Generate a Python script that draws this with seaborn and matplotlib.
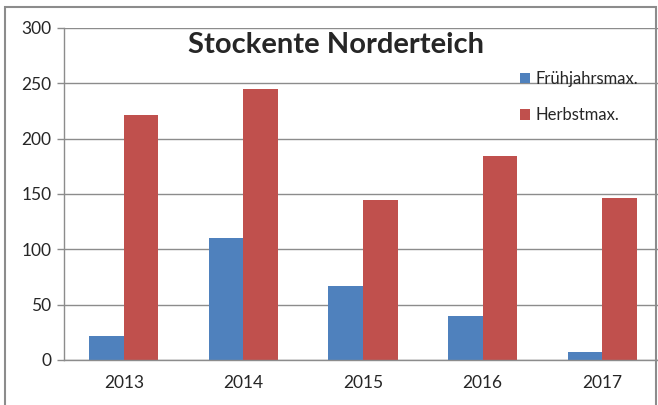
import pandas as pd
import numpy as np
import seaborn as sns
import matplotlib.pyplot as plt
from matplotlib.patches import Rectangle

# Daten
jahre = ["2013", "2014", "2015", "2016", "2017"]
fruehjahr = [22, 110, 67, 40, 7]
herbst = [221, 245, 145, 184, 146]
serien = ["Frühjahrsmax.", "Herbstmax."]
farben = ["#4F81BD", "#C0504D"]

df = pd.DataFrame({
    "Jahr": jahre * 2,
    "Anzahl": fruehjahr + herbst,
    "Serie": [serien[0]] * len(jahre) + [serien[1]] * len(jahre),
})

sns.set_style("white")
plt.rcParams["font.family"] = ["Lato", "DejaVu Sans"]

fig = plt.figure(figsize=(6.58, 4.05), dpi=100)
# Plotbereich reicht rechts leicht über den Rahmen hinaus (wie im Original)
ax = fig.add_axes([64 / 658, 1 - 360 / 405, (662 - 64) / 658, (360 - 28) / 405])

sns.barplot(data=df, x="Jahr", y="Anzahl", hue="Serie", palette=farben,
            width=0.58, saturation=1, linewidth=0, ax=ax, legend=True)

ax.set_ylim(0, 300)
ax.set_yticks(np.arange(0, 301, 50))
ax.set_xlim(-0.5, len(jahre) - 0.5)
ax.set_xlabel("")
ax.set_ylabel("")
ax.yaxis.grid(True, color="#8c8c8c", linewidth=1)
ax.set_axisbelow(True)
for s in ["top", "right"]:
    ax.spines[s].set_visible(False)
for s in ["left", "bottom"]:
    ax.spines[s].set_color("#8c8c8c")
    ax.spines[s].set_linewidth(1)

# Excel-artige Teilstriche zwischen den Kategorien
ax.set_xticks(np.arange(-0.5, len(jahre), 1), minor=True)
ax.tick_params(axis="x", which="major", length=0, pad=11, labelsize=12.5)
ax.tick_params(axis="x", which="minor", length=6, color="#8c8c8c", width=1)
ax.tick_params(axis="y", length=5, color="#8c8c8c", width=1, labelsize=12.5, pad=4, left=True)

fig.text(336 / 658, 1 - 32 / 405, "Stockente Norderteich",
         ha="center", va="top", fontsize=21, fontweight="bold")

leg = ax.legend(loc="upper left", bbox_to_anchor=(513 / 658, 1 - 64 / 405),
                bbox_transform=fig.transFigure, frameon=False, fontsize=12,
                handlelength=0.6, handleheight=0.6, handletextpad=0.35,
                labelspacing=1.25, borderaxespad=0)

# Rahmen des Diagrammbereichs
fig.patches.append(Rectangle((5 / 658, -0.05), (656 - 5) / 658, 1.05 - 7 / 405,
                             transform=fig.transFigure, fill=False,
                             edgecolor="#8c8c8c", linewidth=1.5, zorder=10))

fig.savefig("out.png", dpi=100)
